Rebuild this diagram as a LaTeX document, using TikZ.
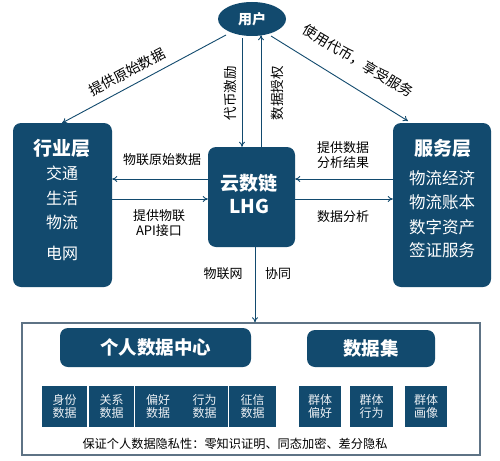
\documentclass[tikz,border=0pt]{standalone}
\usepackage{fontspec}
\setmainfont{Noto Sans CJK SC}
\usetikzlibrary{shapes.geometric,arrows.meta}
\definecolor{navy}{HTML}{124A6E}
\definecolor{frame}{HTML}{5E7385}
\begin{document}
\begin{tikzpicture}[x=1pt,y=-1pt,
  dk/.style={fill=navy,text=white,rounded corners=8pt,inner sep=0pt},
  sq/.style={fill=navy,text=white!92!navy,inner sep=0pt,font=\fontsize{12}{13.5}\selectfont,align=center},
  wt/.style={text=white,inner sep=0pt},
  conn/.style={draw=navy,line width=0.9pt,-{To[length=5pt,width=6pt]}},
  lbl/.style={font=\fontsize{13}{15}\selectfont,text=black,align=center,inner sep=0pt}]
\useasboundingbox (0,0) rectangle (500,460);
\fill[white] (0,0) rectangle (500,460);
% user
\node[ellipse,fill=navy,text=white,minimum width=68pt,minimum height=34pt,inner sep=0pt,font=\fontsize{14}{16}\selectfont\bfseries] (user) at (252,19) {用户};
% left layer
\node[dk,minimum width=99pt,minimum height=164pt] (left) at (62.5,205) {};
\node[wt,font=\fontsize{19}{21}\selectfont\bfseries] (lt) at (62,148) {行业层};
\node[wt,font=\fontsize{16}{18}\selectfont] (l1a) at (62,173) {交通};
\node[wt,font=\fontsize{16}{18}\selectfont] (l1b) at (62,198) {生活};
\node[wt,font=\fontsize{16}{18}\selectfont] (l1c) at (62,222) {物流};
\node[wt,font=\fontsize{16}{18}\selectfont] (l1d) at (62,253) {电网};
% right layer
\node[dk,minimum width=98pt,minimum height=164pt] (right) at (442,205) {};
\node[wt,font=\fontsize{19}{21}\selectfont\bfseries] (rt) at (443,148) {服务层};
\node[wt,font=\fontsize{16.5}{18}\selectfont] (r1a) at (442,178) {物流经济};
\node[wt,font=\fontsize{16.5}{18}\selectfont] (r1b) at (442,202) {物流账本};
\node[wt,font=\fontsize{16.5}{18}\selectfont] (r1c) at (442,227) {数字资产};
\node[wt,font=\fontsize{16.5}{18}\selectfont] (r1d) at (442,250) {签证服务};
% center
\node[dk,minimum width=87pt,minimum height=100pt] (c) at (251.5,197) {};
\node[wt,font=\fontsize{19}{21}\selectfont\bfseries] (ct1) at (249,183) {云数链};
\node[wt,font=\fontsize{19}{21}\selectfont\bfseries] (ct2) at (249,206) {LHG};
% outer frame
\node[draw=frame,line width=1.3pt,minimum width=458pt,minimum height=132pt,inner sep=0pt] (outer) at (251,389) {};
\node[dk,minimum width=191pt,minimum height=39pt,font=\fontsize{18.5}{20}\selectfont\bfseries] (pdc) at (155.5,347.5) {个人数据中心};
\node[dk,minimum width=128pt,minimum height=37pt,font=\fontsize{18.5}{20}\selectfont\bfseries] (ds) at (371,348.5) {数据集};
\foreach \n/\x/\w/\t in {a/64.5/45/身份\\数据, b/111.5/45/关系\\数据, c2/158/46/偏好\\数据, d/204.5/47/行为\\数据, e/252.5/47/征信\\数据, f/320/42/群体\\偏好, g/371.5/43/群体\\行为, h/426/42/群体\\画像}
  \node[sq,minimum width=\w pt,minimum height=41pt] (\n) at (\x,406.5) {\t};
\node[lbl,font=\fontsize{12.2}{14}\selectfont] (priv) at (235,444) {保证个人数据隐私性：零知识证明、同态加密、差分隐私};
% connectors
\coordinate (ul) at (226,35);
\coordinate (ur) at (271,36);
\coordinate (lend) at (62,123);
\coordinate (rend) at (408,121);
\draw[conn] (ul) -- (lend);
\draw[conn] (ur) -- (rend);
\node[lbl,rotate=28,font=\fontsize{14}{16}\selectfont] (l1) at (127,72) {提供原始数据};
\node[lbl,rotate=-31,font=\fontsize{14}{16}\selectfont] (l2) at (358,61) {使用代币，享受服务};
\draw[conn] ([yshift=-2pt]user.south -| 242,0) -- (c.north -| 242,0);
\draw[conn] (c.north -| 261,0) -- ([yshift=1pt]user.south -| 261,0);
\node[lbl,rotate=90,font=\fontsize{13.5}{15}\selectfont] (v1) at (230,93) {代币激励};
\node[lbl,rotate=90,font=\fontsize{13.5}{15}\selectfont] (v2) at (277,93) {数据授权};
\draw[conn] (c.west |- 0,179) -- (left.east |- 0,179);
\draw[conn] (left.east |- 0,199) -- (c.west |- 0,199);
\draw[conn] (right.west |- 0,179) -- (c.east |- 0,179);
\draw[conn] (c.east |- 0,199) -- (right.west |- 0,199);
\node[lbl] (h1) at (162,160) {物联原始数据};
\node[lbl,font=\fontsize{13}{14.5}\selectfont] (h2) at (159,223) {提供物联\\API接口};
\node[lbl,font=\fontsize{13}{14.5}\selectfont] (h3) at (343,155) {提供数据\\分析结果};
\node[lbl] (h4) at (343,217) {数据分析};
\draw[conn] (c.south -| 255,0) -- (outer.north -| 255,0);
\node[lbl] (w1) at (223,274) {物联网};
\node[lbl] (w2) at (278,274) {协同};
\end{tikzpicture}
\end{document}
